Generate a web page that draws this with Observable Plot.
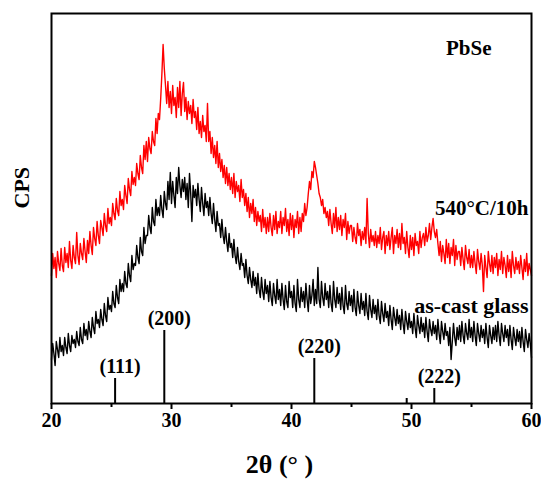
<!DOCTYPE html>
<html>
<head>
<meta charset="utf-8">
<script src="https://cdn.jsdelivr.net/npm/d3@7"></script>
<script src="https://cdn.jsdelivr.net/npm/@observablehq/plot@0.6"></script>
<style>
  html, body { margin: 0; padding: 0; background: #fff; }
</style>
</head>
<body>
<div id="chart"></div>
<script>
// 2θ sampling grid (degrees)
const thetaStart = 20;
const thetaStep = 0.1;

// 540°C/10h (red) intensity (one row per degree)
const annealed = [
  128,150,135,146,126,152,140,133,155,138,
  132,156,141,150,136,162,143,135,158,146,
  140,171,148,139,160,150,144,165,152,141,
  163,150,172,158,149,176,165,158,182,168,
  160,183,176,168,190,178,172,195,180,186,
  178,200,190,184,205,193,188,212,198,204,
  194,218,208,200,225,214,208,232,219,226,
  218,240,230,224,248,236,230,258,244,262,
  242,266,255,250,272,262,258,285,270,290,
  284,305,330,359,335,318,300,322,296,312,
  290,318,298,306,286,316,296,322,288,310,
  321,292,306,284,302,290,298,280,304,286,
  292,274,296,270,282,266,288,272,278,262,
  300,262,272,250,266,246,258,240,262,236,
  250,232,244,226,238,220,236,218,230,214,
  226,210,230,206,222,212,218,202,224,206,
  214,198,210,192,206,186,200,190,204,182,
  196,178,192,182,188,172,194,176,186,170,
  186,172,190,176,168,188,174,192,170,182,
  176,192,170,186,178,195,172,184,168,190,
  174,188,166,184,176,192,170,186,172,190,
  182,200,188,196,210,222,214,232,226,242,
  236,228,220,210,206,198,204,190,196,186,
  192,178,194,180,170,190,176,196,172,186,
  174,188,168,184,176,190,164,182,170,178,
  178,162,176,166,160,180,168,174,158,172,
  164,176,160,205,170,156,174,162,168,158,
  172,156,168,160,176,154,166,172,150,168,
  158,172,154,166,176,150,168,160,174,156,
  170,154,180,160,166,150,172,156,146,168,
  154,166,148,170,158,162,150,172,156,166,
  170,158,176,162,168,180,164,176,185,172,
  166,174,160,148,162,142,158,150,140,164,
  146,160,140,156,148,164,138,158,144,152,
  152,138,156,144,134,158,146,140,154,136,
  148,136,152,140,130,154,142,134,150,138,
  112,148,136,126,152,140,132,148,130,146,
  136,150,128,144,134,152,130,146,138,126,
  148,132,144,126,152,138,130,146,134,142,
  130,148,136,124,144,132,150,128,140,134,
  128
];

// as-cast glass (black) intensity (one row per degree)
const asCast = [
  44,60,50,38,62,54,46,66,52,58,
  48,66,56,50,70,58,52,68,60,64,
  56,72,62,58,76,64,60,80,68,74,
  64,82,72,66,86,76,70,92,80,84,
  76,94,84,78,100,88,82,106,94,98,
  92,112,100,96,118,106,100,124,112,120,
  112,132,120,116,140,128,122,148,134,140,
  138,158,146,140,166,152,148,176,160,168,
  168,188,176,170,196,182,178,204,188,196,
  188,208,194,186,212,200,194,222,204,231,
  200,222,208,196,226,210,236,218,206,224,
  212,226,204,220,196,230,210,182,218,206,
  214,198,220,204,192,216,200,188,210,196,
  202,188,206,190,180,200,184,172,192,178,
  180,166,184,168,160,176,162,152,170,156,
  160,146,164,148,140,156,142,134,150,138,
  140,126,144,128,120,136,124,116,132,118,
  126,110,130,114,106,126,112,104,124,110,
  118,102,122,106,98,120,108,100,124,104,
  114,98,120,104,94,118,102,96,122,106,
  112,96,118,100,92,124,104,96,116,102,
  112,96,120,104,92,118,100,108,124,98,
  114,100,136,104,96,122,106,98,120,104,
  112,96,118,100,92,122,104,96,116,100,
  110,94,116,98,90,118,100,94,112,98,
  108,92,114,96,88,112,98,90,110,94,
  102,88,110,92,84,108,94,86,104,90,
  98,84,104,88,80,102,90,82,100,86,
  92,78,98,84,74,96,86,78,94,80,
  88,74,94,80,70,92,82,74,90,76,
  82,70,90,76,66,88,78,70,86,72,
  80,66,86,72,62,84,74,68,82,70,
  78,64,84,70,60,82,72,64,80,68,
  72,58,76,44,62,80,66,58,76,64,
  78,62,82,68,60,80,70,64,84,66,
  76,62,82,68,58,80,70,62,78,66,
  74,60,80,66,56,78,68,60,76,64,
  78,62,82,68,58,80,70,62,78,66,
  74,58,78,64,54,76,66,58,74,62,
  72,56,76,62,52,74,64,56,70,60,
  46
];

// PbSe reference lines
const refPositions = [25.3, 29.4, 41.9, 49.6, 51.9];
const refHeights   = [25, 73, 45, 5, 15];
const refLabels    = ["(111)", "(200)", "(220)", "", "(222)"];

// axis ticks
const majorTicks = [20, 30, 40, 50, 60];
const minorTicks = [25, 35, 45, 55];

const toPoints = arr => arr.map((v, i) => ({x: +(thetaStart + i * thetaStep).toFixed(2), y: v}));
const redData = toPoints(annealed);
const blackData = toPoints(asCast);
const refs = refPositions.map((p, i) => ({x: p, h: refHeights[i], label: refLabels[i]}));

const serif = "'Liberation Serif', 'Times New Roman', serif";

const chart = Plot.plot({
  width: 541,
  height: 481,
  marginLeft: 51,
  marginRight: 10,
  marginTop: 13,
  marginBottom: 78,
  style: {fontFamily: serif, background: "#fff", color: "#000"},
  x: {domain: [20, 60]},
  y: {domain: [0, 390], axis: null},
  marks: [
    Plot.lineY(redData, {x: "x", y: "y", stroke: "#ff0000", strokeWidth: 1.4}),
    Plot.lineY(blackData, {x: "x", y: "y", stroke: "#000", strokeWidth: 1.4}),
    Plot.ruleX(refs, {x: "x", y1: 0, y2: "h", stroke: "#000", strokeWidth: 2}),
    Plot.text(refs, {x: "x", y: "h", text: "label", dx: 5, dy: -12, fontSize: 20, fontWeight: "bold", fill: "#000", lineAnchor: "middle"}),
    Plot.frame({stroke: "#000", strokeWidth: 2}),
    Plot.axisX({ticks: majorTicks, tickSize: 6, tickPadding: 3, fontSize: 20, fontWeight: "bold", strokeWidth: 2, label: null}),
    Plot.axisX({ticks: minorTicks, tickSize: 4, tickFormat: () => "", strokeWidth: 2, label: null}),
    Plot.text(["PbSe"], {frameAnchor: "top-right", dx: -40, dy: 35, textAnchor: "end", lineAnchor: "middle", fontSize: 21, fontWeight: "bold", fill: "#000"}),
    Plot.text(["540°C/10h"], {frameAnchor: "top-right", dx: -3, dy: 195, textAnchor: "end", lineAnchor: "middle", fontSize: 21, fontWeight: "bold", fill: "#000"}),
    Plot.text(["as-cast glass"], {frameAnchor: "top-right", dx: -3, dy: 292, textAnchor: "end", lineAnchor: "middle", fontSize: 22, fontWeight: "bold", fill: "#000"}),
    Plot.text(["CPS"], {frameAnchor: "left", dx: -30, rotate: -90, lineAnchor: "middle", fontSize: 22, fontWeight: "bold", fill: "#000"}),
    Plot.text(["2θ (° )"], {frameAnchor: "bottom", dx: -12, dy: 61, lineAnchor: "middle", fontSize: 26, fontWeight: "bold", fill: "#000"})
  ]
});

document.getElementById("chart").appendChild(chart);
</script>
</body>
</html>
